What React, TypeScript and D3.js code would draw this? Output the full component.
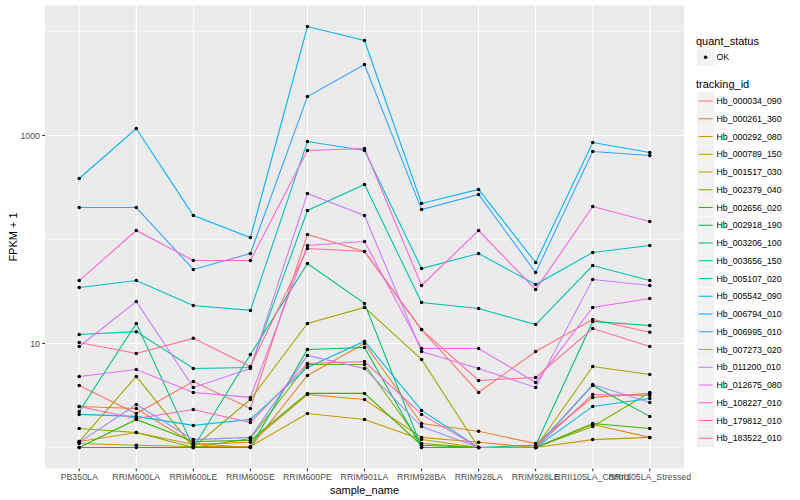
import React from "react";
import * as d3 from "d3";

const samples = [
  "PB350LA", "RRIM600LA", "RRIM600LE", "RRIM600SE", "RRIM600PE", "RRIM901LA",
  "RRIM928BA", "RRIM928LA", "RRIM928LE", "RRII105LA_Control", "RRII105LA_Stressed",
];

// FPKM values per gene (plotted as FPKM + 1)
const Hb_000034_090 = [2.95, 1.12, 3.31, 1.37, 111, 75.7, 12.6, 2.38, 7.38, 16.0, 11.8];
const Hb_000261_360 = [1.48, 1.37, 0.09, 0, 3.92, 9.0, 0.7, 0.43, 0.09, 2.03, 2.31];
const Hb_000292_080 = [0.14, 0.39, 0.07, 0.12, 2.23, 1.89, 0.25, 0.12, 0, 0.66, 0.25];
const Hb_000789_150 = [0.09, 0.05, 0.02, 0.02, 1.12, 0.86, 0.19, 0, 0, 0.19, 0.25];
const Hb_001517_030 = [0.14, 3.82, 0, 1.89, 14.6, 21.2, 6.02, 0, 0, 5.01, 4.03];
const Hb_002379_040 = [0.52, 0.39, 0, 0.22, 5.28, 5.28, 0.09, 0, 0, 0.59, 2.38];
const Hb_002656_020 = [0, 0.86, 0.14, 0.17, 2.31, 2.31, 0.05, 0, 0, 0.7, 0.52];
const Hb_002918_190 = [0, 0, 0, 0, 7.75, 8.16, 0, 0, 0, 2.95, 0.99];
const Hb_003206_100 = [1.22, 14.6, 0, 6.84, 57.8, 23.3, 0, 0, 0.05, 15.3, 13.9];
const Hb_003656_150 = [11.2, 12.0, 4.75, 4.88, 189, 337, 23.8, 20.7, 14.2, 55.2, 39.3];
const Hb_005107_020 = [33.5, 39.3, 22.2, 19.8, 875, 716, 51.6, 72.3, 35.9, 74, 86.5];
const Hb_005542_090 = [1.08, 0.99, 0.63, 0.86, 4.88, 9.5, 1.27, 0, 0, 1.48, 1.96];
const Hb_006794_010 = [385, 1166, 169, 103.5, 11169, 8189, 221, 302, 59, 856, 686];
const Hb_006995_010 = [202, 202, 50.5, 72.3, 2370, 4818, 193, 270, 47.2, 701, 641];
const Hb_007273_020 = [0.12, 1.59, 0.19, 0.25, 6.67, 4.75, 0.59, 0, 0, 3.03, 1.71];
const Hb_011200_010 = [8.36, 24.3, 2.78, 4.75, 276, 169, 7.38, 4.75, 2.78, 40.2, 35.1];
const Hb_012675_080 = [3.82, 4.62, 2.38, 2.03, 86.5, 94.7, 7.95, 7.95, 3.22, 21.2, 26.1];
const Hb_108227_010 = [39.3, 121, 61.8, 61.8, 716, 749, 35.1, 121, 32, 206.5, 148];
const Hb_179812_010 = [1.48, 0.9, 1.32, 0.74, 5.42, 5.71, 1.08, 0, 0, 2.23, 2.16];
const Hb_183522_010 = [9.2, 7.0, 10.2, 5.0, 80.9, 75.7, 12.6, 3.41, 3.71, 12.9, 8.36];

const trackingIds = [
  "Hb_000034_090", "Hb_000261_360", "Hb_000292_080", "Hb_000789_150", "Hb_001517_030",
  "Hb_002379_040", "Hb_002656_020", "Hb_002918_190", "Hb_003206_100", "Hb_003656_150",
  "Hb_005107_020", "Hb_005542_090", "Hb_006794_010", "Hb_006995_010", "Hb_007273_020",
  "Hb_011200_010", "Hb_012675_080", "Hb_108227_010", "Hb_179812_010", "Hb_183522_010",
];
const seriesValues = [
  Hb_000034_090, Hb_000261_360, Hb_000292_080, Hb_000789_150, Hb_001517_030,
  Hb_002379_040, Hb_002656_020, Hb_002918_190, Hb_003206_100, Hb_003656_150,
  Hb_005107_020, Hb_005542_090, Hb_006794_010, Hb_006995_010, Hb_007273_020,
  Hb_011200_010, Hb_012675_080, Hb_108227_010, Hb_179812_010, Hb_183522_010,
];
const yTicks = [10, 1000];
const yMinor = [1, 100, 10000];

const palette = [
  "#F8766D", "#EA8331", "#D89000", "#C09B00", "#A3A500", "#7CAE00", "#39B600",
  "#00BB4E", "#00BF7D", "#00C1A3", "#00BFC4", "#00BAE0", "#00B0F6", "#35A2FF",
  "#9590FF", "#C77CFF", "#E76BF3", "#FA62DB", "#FF62BC", "#FF6C91",
];

const W = 800, H = 500;
const P = { left: 45, right: 684, top: 5.5, bottom: 468.5 };
const FONT = "'Liberation Sans', Arial, Helvetica, sans-serif";

export default function App() {
  const x = d3.scalePoint<string>().domain(samples).range([P.left, P.right]).padding(0.6);
  const all = seriesValues.flat().map((v) => Math.log10(v + 1));
  const [lo, hi] = d3.extent(all) as [number, number];
  const ex = (hi - lo) * 0.05;
  const y = d3.scaleLog().domain([Math.pow(10, lo - ex), Math.pow(10, hi + ex)]).range([P.bottom, P.top]);
  const color = d3.scaleOrdinal<string, string>().domain(trackingIds).range(palette);

  const line = d3
    .line<number>()
    .x((_, i) => x(samples[i]) as number)
    .y((v) => y(v + 1));

  const legendTop = 101;
  const rowH = 17.75;

  return (
    <div style={{ position: "fixed", left: 0, top: 0 }}>
      <svg width={W} height={H} style={{ display: "block", background: "#fff" }} fontFamily={FONT}>
        <rect x={P.left} y={P.top} width={P.right - P.left} height={P.bottom - P.top} fill="#EBEBEB" />
        {yMinor.map((t) => (
          <line key={"ym" + t} x1={P.left} x2={P.right} y1={y(t)} y2={y(t)} stroke="#fff" strokeWidth={0.53} />
        ))}
        {yTicks.map((t) => (
          <line key={"yg" + t} x1={P.left} x2={P.right} y1={y(t)} y2={y(t)} stroke="#fff" strokeWidth={1.07} />
        ))}
        {samples.map((s) => (
          <line key={"xg" + s} x1={x(s)} x2={x(s)} y1={P.top} y2={P.bottom} stroke="#fff" strokeWidth={1.07} />
        ))}
        {seriesValues.map((vals, i) => (
          <path key={"l" + i} d={line(vals) || ""} fill="none" stroke={color(trackingIds[i])} strokeWidth={1.07} />
        ))}
        {seriesValues.map((vals, i) =>
          vals.map((v, j) => (
            <circle key={"p" + i + "-" + j} cx={x(samples[j])} cy={y(v + 1)} r={1.75} fill="#000" />
          ))
        )}
        {/* y axis */}
        {yTicks.map((t) => (
          <g key={"yt" + t}>
            <line x1={P.left - 2.75} x2={P.left} y1={y(t)} y2={y(t)} stroke="#333" strokeWidth={1.07} />
            <text x={P.left - 5} y={y(t) + 3.1} textAnchor="end" fontSize={8.8} fill="#4D4D4D">
              {d3.format("d")(t)}
            </text>
          </g>
        ))}
        {/* x axis */}
        {samples.map((s) => (
          <g key={"xt" + s}>
            <line x1={x(s)} x2={x(s)} y1={P.bottom} y2={P.bottom + 2.75} stroke="#333" strokeWidth={1.07} />
            <text x={x(s)} y={P.bottom + 11.6} textAnchor="middle" fontSize={8.8} fill="#4D4D4D">
              {s}
            </text>
          </g>
        ))}
        <text x={(P.left + P.right) / 2} y={494} textAnchor="middle" fontSize={11} fill="#000">
          sample_name
        </text>
        <text
          transform={`translate(${17},${(P.top + P.bottom) / 2}) rotate(-90)`}
          textAnchor="middle"
          fontSize={11}
          fill="#000"
        >
          FPKM + 1
        </text>
        {/* legend: quant_status */}
        <text x={696} y={45} fontSize={11} fill="#000">quant_status</text>
        <rect x={697} y={48.7} width={17.3} height={17.3} fill="#F2F2F2" />
        <circle cx={705.6} cy={57.3} r={1.75} fill="#000" />
        <text x={716.5} y={60.4} fontSize={8.8} fill="#000">OK</text>
        {/* legend: tracking_id */}
        <text x={696} y={88} fontSize={11} fill="#000">tracking_id</text>
        {trackingIds.map((id, i) => {
          const cy = legendTop + i * rowH;
          return (
            <g key={"lg" + id}>
              <rect x={697} y={cy - 8.65} width={17.3} height={17.3} fill="#F2F2F2" />
              <line x1={698.7} x2={712.6} y1={cy} y2={cy} stroke={color(id)} strokeWidth={1.07} />
              <text x={716.5} y={cy + 3.1} fontSize={8.8} fill="#000">{id}</text>
            </g>
          );
        })}
      </svg>
    </div>
  );
}
